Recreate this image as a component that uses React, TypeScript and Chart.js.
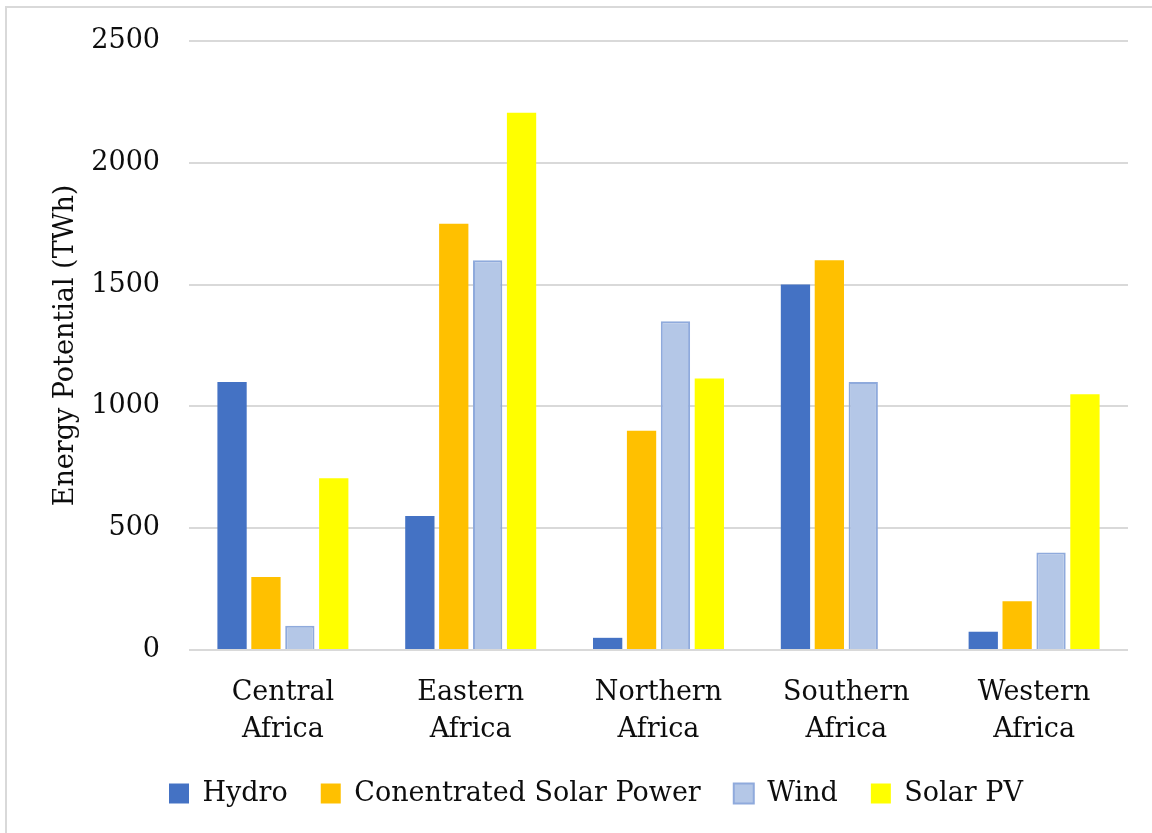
import React, { useEffect, useRef } from "react";
import { Chart, registerables } from "chart.js";

Chart.register(...registerables);

const categories: string[][] = [
  ["Central", "Africa"],
  ["Eastern", "Africa"],
  ["Northern", "Africa"],
  ["Southern", "Africa"],
  ["Western", "Africa"],
];
const hydro = [1100, 550, 50, 1500, 75];
const csp = [300, 1750, 900, 1600, 200];
const wind = [100, 1600, 1350, 1100, 400];
const solarPV = [705, 2205, 1115, 0, 1050];

const FONT = "'DejaVu Serif', serif";
const TEXT = "#0d0d0d";

export default function App() {
  const ref = useRef<HTMLCanvasElement | null>(null);

  useEffect(() => {
    if (!ref.current) return;
    const shiftLegend = {
      id: "shiftLegend",
      afterLayout(chart: any) {
        const lg = chart.legend;
        if (lg) {
          lg.left += 32;
          lg.right += 32;
        }
      },
    };
    const chart = new Chart(ref.current, {
      type: "bar",
      data: {
        labels: categories,
        datasets: [
          { label: "Hydro", data: hydro, backgroundColor: "#4472C4", borderColor: "#4472C4", borderWidth: 0 },
          { label: "Conentrated Solar Power", data: csp, backgroundColor: "#FFC000", borderColor: "#FFC000", borderWidth: 0 },
          { label: "Wind", data: wind, backgroundColor: "#B4C7E7", borderColor: "#8FAADC", borderWidth: 2 },
          { label: "Solar PV", data: solarPV, backgroundColor: "#FFFF00", borderColor: "#FFFF00", borderWidth: 0 },
        ],
      },
      options: {
        animation: false,
        responsive: false,
        maintainAspectRatio: false,
        datasets: { bar: { categoryPercentage: 0.722, barPercentage: 0.864 } },
        layout: { padding: { top: 41, right: 24, bottom: 16, left: 0 } },
        plugins: {
          tooltip: { enabled: false },
          legend: {
            position: "bottom",
            labels: {
              boxWidth: 20,
              boxHeight: 20,
              padding: 33,
              color: TEXT,
              font: { family: FONT, size: 27 },
            },
          },
        },
        scales: {
          x: {
            grid: { display: false, drawTicks: false },
            border: { display: false },
            ticks: {
              color: TEXT,
              font: { family: FONT, size: 27, lineHeight: 1.37 },
              padding: 24,
              maxRotation: 0,
              autoSkip: false,
            },
            afterFit(scale: any) {
              scale.height = 97;
              scale.paddingLeft = 0;
              scale.paddingRight = 0;
            },
          },
          y: {
            min: 0,
            max: 2500,
            grid: { color: "#d9d9d9", lineWidth: 2, drawTicks: false },
            border: { display: false },
            ticks: {
              stepSize: 500,
              color: TEXT,
              font: { family: FONT, size: 27 },
              padding: 29,
              callback: (v: any) => String(v),
            },
            title: {
              display: true,
              text: "Energy Potential (TWh)",
              color: TEXT,
              font: { family: FONT, size: 27, lineHeight: 1.2 },
              padding: { top: 50, bottom: 0 },
            },
            afterFit(scale: any) {
              scale.width = 189;
              scale.paddingTop = 0;
              scale.paddingBottom = 0;
            },
          },
        },
      },
      plugins: [shiftLegend],
    });
    return () => chart.destroy();
  }, []);

  return (
    <div
      style={{
        position: "absolute",
        left: 0,
        top: 0,
        width: 1152,
        height: 833,
        overflow: "hidden",
        background: "#fff",
      }}
    >
      <canvas ref={ref} width={1152} height={833} style={{ position: "absolute", left: 0, top: 0 }} />
      <div
        style={{
          position: "absolute",
          left: 5,
          top: 6,
          width: 1170,
          height: 850,
          border: "2px solid #d9d9d9",
          boxSizing: "border-box",
          pointerEvents: "none",
        }}
      />
    </div>
  );
}
